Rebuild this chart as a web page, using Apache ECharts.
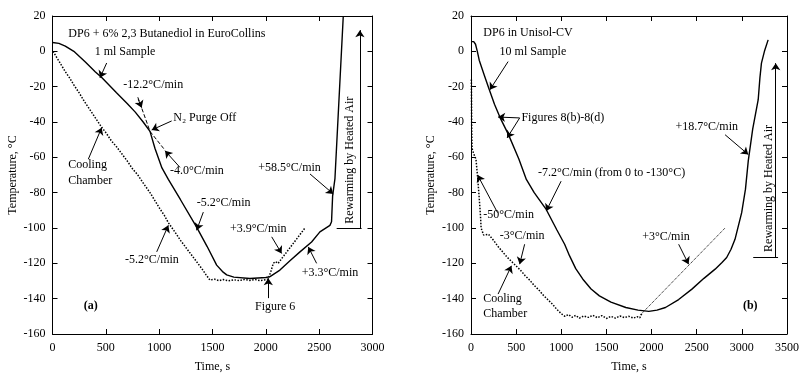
<!DOCTYPE html>
<html>
<head>
<meta charset="utf-8">
<script src="https://cdn.jsdelivr.net/npm/echarts@6/dist/echarts.min.js"></script>
<style>
html, body { margin: 0; padding: 0; background: #fff; }
#chart { width: 802px; height: 378px; }
</style>
</head>
<body>
<div id="chart"></div>
<script>
var FONT = "Liberation Serif";

// ---- panel (a): DP6 + 6% 2,3 Butanediol, 1 ml ----
var sampleA = [
  [0, 5], [60, 4.5], [120, 3], [200, 0], [308, -6], [400, -11.5], [464, -15], [600, -23.5],
  [700, -29.5], [776, -34.4], [850, -40], [914, -45.3], [961, -55], [1026, -66], [1086, -72.5],
  [1200, -84], [1351, -99.5], [1450, -110.5], [1539, -121], [1600, -125], [1633, -126.5],
  [1700, -127.8], [1851, -128.6], [2000, -128], [2039, -127.5], [2132, -123.8], [2226, -118.5],
  [2320, -113.5], [2429, -107.9], [2507, -102.2], [2601, -98.5], [2616, -96.5], [2626, -82],
  [2648, -72], [2726, 20]
];
var chamberA = [
  [5, 0], [40, -3.5], [80, -7.5], [120, -11.5], [160, -15], [200, -19], [250, -23.5], [300, -28.5],
  [350, -33], [400, -37.5], [461, -43], [500, -46], [550, -50.5], [600, -54], [650, -58], [700, -62],
  [750, -66.5], [800, -70], [850, -74.5], [914, -80], [950, -83.5], [1000, -88.5], [1050, -93],
  [1086, -97], [1150, -102.5], [1200, -107], [1250, -111], [1300, -115], [1350, -119], [1400, -123],
  [1440, -126.5], [1476, -129.5], [1490, -130], [1520, -129], [1560, -129.8], [1600, -129.2],
  [1650, -129.9], [1700, -129.3], [1750, -129.8], [1800, -129.1], [1850, -129.7], [1900, -129.2],
  [1950, -129.8], [2000, -129.3], [2023, -128.8], [2045, -125], [2070, -120], [2090, -119],
  [2115, -120], [2367, -100]
];
var tangentFastA = [[800, -26], [914, -45.3]];   // -12.2 C/min
var tangentSlowA = [[914, -45.3], [1055, -56]];  // -4.0 C/min

// ---- panel (b): DP6 in Unisol-CV, 10 ml ----
var sampleB = [
  [0, 5.5], [30, 5.5], [50, 4], [70, 0], [91, -5], [150, -14], [201, -21.5], [260, -30], [322, -37.5],
  [414, -47], [530, -61], [613, -72.5], [700, -80], [833, -89.5], [950, -101], [1037, -109.2],
  [1092, -115.8], [1160, -123], [1239, -129], [1330, -134.5], [1422, -138.4], [1550, -142],
  [1715, -145], [1850, -146.5], [1970, -147.2], [2060, -146.5], [2154, -145], [2300, -140.5],
  [2447, -134.6], [2580, -128.5], [2704, -123.3], [2780, -119.5], [2832, -116.7], [2880, -112],
  [2924, -106.4], [2998, -91.3], [3040, -78], [3071, -62], [3120, -44], [3181, -27.4],
  [3200, -15], [3217, -6.7], [3250, 0], [3291, 6.5]
];
var chamberB = [
  [4, -16], [6, -30], [8, -45], [12, -55], [30, -58], [55, -61], [73, -71], [91, -83], [105, -93],
  [112, -100], [140, -104], [193, -103.5], [250, -107], [300, -110.5], [350, -113.5], [400, -116.5],
  [450, -119], [500, -121.5], [550, -124], [600, -127], [650, -129.5], [700, -132.5], [750, -135],
  [800, -138], [850, -140.5], [900, -143], [950, -146], [1000, -148.5], [1040, -150], [1080, -149],
  [1120, -150.5], [1160, -149.5], [1200, -151], [1250, -149.8], [1300, -150.6], [1350, -149.4],
  [1400, -150.8], [1450, -149.6], [1500, -151.2], [1550, -150], [1600, -151], [1650, -149.8],
  [1700, -150.7], [1750, -150], [1800, -151], [1840, -150.2], [1870, -150.8], [1896, -148]
];
var rateLineB = [[1880, -149], [2814, -100]];   // +3 C/min

// annotations: [text, time, temp, align, bold]
var labelsA = [
  ["DP6 + 6% 2,3 Butanediol in EuroCollins", 148, 9.7, "left"],
  ["1 ml Sample", 680, -0.4, "center"],
  ["-12.2°C/min", 664, -18.8, "left"],
  ["N₂ Purge Off", 1132, -37.5, "left"],
  ["-4.0°C/min", 1102, -67.9, "left"],
  ["Cooling", 148, -64.2, "left"],
  ["Chamber", 148, -73.2, "left"],
  ["-5.2°C/min", 1352, -85.7, "left"],
  ["-5.2°C/min", 680, -118.2, "left"],
  ["+3.9°C/min", 1664, -100.4, "left"],
  ["+3.3°C/min", 2336, -125.3, "left"],
  ["Figure 6", 1898, -144.4, "left"],
  ["+58.5°C/min", 1929, -65.7, "left"],
  ["(a)", 359, -144, "center", true]
];
var arrowsA = [
  [[508, -6.6], [445, -15]],
  [[804, -27.2], [836, -31.9]],
  [[1117, -39.4], [930, -44.5]],
  [[1195, -65.7], [1055, -56.3]],
  [[336, -61], [461, -43.2]],
  [[1414, -91], [1351, -101.3]],
  [[977, -113.5], [1086, -98.5]],
  [[2055, -105], [2148, -114.4]],
  [[2476, -120], [2398, -110.7]],
  [[2023, -139.7], [2023, -128.5]],
  [[2414, -69.4], [2632, -80.7]],
  [[2882, -100], [2882, 12]]
];
var bracketA = [[2664, -100], [2898, -100]];
var rewarmA = [2789, -61.6];

var labelsB = [
  ["DP6 in Unisol-CV", 631, 10.2, "center"],
  ["10 ml Sample", 686, -0.1, "center"],
  ["Figures 8(b)-8(d)", 558, -37.7, "left"],
  ["-7.2°C/min (from 0 to -130°C)", 741, -68.8, "left"],
  ["-50°C/min", 135, -92.3, "left"],
  ["-3°C/min", 319, -104.5, "left"],
  ["Cooling", 135, -140.3, "left"],
  ["Chamber", 135, -148.7, "left"],
  ["+3°C/min", 1896, -104.9, "left"],
  ["+18.7°C/min", 2264, -42.5, "left"],
  ["(b)", 3093, -144, "center", true]
];
var arrowsB = [
  [[411, -5.8], [209, -21.8]],
  [[539, -37.7], [300, -37.2]],
  [[539, -37.7], [400, -49]],
  [[998, -73.5], [833, -90.4]],
  [[294, -91.3], [73, -70]],
  [[594, -109.2], [539, -120.5]],
  [[300, -137.4], [448, -121.4]],
  [[2300, -109.2], [2410, -120.5]],
  [[2814, -47.2], [3071, -58.4]],
  [[3375, -116.7], [3375, -6.7]]
];
var bracketB = [[3126, -116.7], [3401, -116.7]];
var rewarmB = [3298, -77.6];

var chart = echarts.init(document.getElementById("chart"));

function plain(v) { return String(v); }

function xAxes(grid, max) {
  var base = {
    type: "value", gridIndex: grid, min: 0, max: max, interval: 500,
    axisLine: { onZero: false, lineStyle: { color: "#000", width: 1 } },
    axisTick: { inside: true, length: 5, lineStyle: { color: "#000" } },
    splitLine: { show: false }
  };
  var bottom = Object.assign({}, base, {
    position: "bottom",
    axisLabel: { color: "#000", fontFamily: FONT, fontSize: 12, margin: 8, formatter: plain },
    name: "Time, s", nameLocation: "middle", nameGap: 27,
    nameTextStyle: { color: "#000", fontFamily: FONT, fontSize: 12 }
  });
  var top = Object.assign({}, base, { position: "top", axisLabel: { show: false } });
  return [bottom, top];
}
function yAxes(grid) {
  var base = {
    type: "value", gridIndex: grid, min: -160, max: 20, interval: 20,
    axisLine: { onZero: false, lineStyle: { color: "#000", width: 1 } },
    axisTick: { inside: true, length: 5, lineStyle: { color: "#000" } },
    splitLine: { show: false }
  };
  var left = Object.assign({}, base, {
    position: "left",
    axisLabel: { color: "#000", fontFamily: FONT, fontSize: 12, margin: 7, formatter: plain },
    name: "Temperature, °C", nameLocation: "middle", nameGap: 34,
    nameTextStyle: { color: "#000", fontFamily: FONT, fontSize: 12 }
  });
  var right = Object.assign({}, base, { position: "right", axisLabel: { show: false } });
  return [left, right];
}

function curve(data, xi, yi, type, width) {
  return {
    type: "line", xAxisIndex: xi, yAxisIndex: yi, data: data,
    showSymbol: false, symbol: "none", silent: true,
    lineStyle: { color: "#000", width: width, type: type }
  };
}

function arrowSeries(xi, yi, arrows, bracket) {
  var d = arrows.map(function (a) {
    return [{ coord: a[0] }, { coord: a[1] }];
  });
  d.push([{ coord: bracket[0], symbol: "none" }, { coord: bracket[1], symbol: "none" }]);
  return {
    type: "line", xAxisIndex: xi, yAxisIndex: yi, data: [], silent: true,
    markLine: {
      silent: true, animation: false,
      symbol: ["none", "arrow"], symbolSize: 7,
      label: { show: false },
      lineStyle: { color: "#000", width: 1, type: "solid" },
      emphasis: { disabled: true },
      data: d
    }
  };
}

var xa = xAxes(0, 3000), xb = xAxes(1, 3500);
var ya = yAxes(0), yb = yAxes(1);

chart.setOption({
  animation: false,
  backgroundColor: "#fff",
  grid: [
    { left: 52.5, top: 16, width: 320, height: 320 },
    { left: 471, top: 16, width: 318, height: 319 }
  ],
  xAxis: [xa[0], xa[1], xb[0], xb[1]],
  yAxis: [ya[0], ya[1], yb[0], yb[1]],
  series: [
    curve(sampleA, 0, 0, "solid", 1.4),
    curve(chamberA, 0, 0, "dotted", 1.5),
    curve(tangentFastA, 0, 0, "dashed", 1),
    curve(tangentSlowA, 0, 0, "dashed", 1),
    arrowSeries(0, 0, arrowsA, bracketA),
    curve(sampleB, 2, 2, "solid", 1.4),
    curve(chamberB, 2, 2, "dotted", 1.5),
    curve(rateLineB, 2, 2, "dotted", 1),
    arrowSeries(2, 2, arrowsB, bracketB)
  ]
});

function textGraphics(gridIndex, labels, rewarm) {
  var out = labels.map(function (l) {
    var p = chart.convertToPixel({ gridIndex: gridIndex }, [l[1], l[2]]);
    return {
      type: "text", x: p[0], y: p[1], silent: true,
      style: {
        text: l[0], fill: "#000", fontFamily: FONT, fontSize: 12,
        fontWeight: l[4] ? "bold" : "normal",
        align: l[3], verticalAlign: "middle"
      }
    };
  });
  var r = chart.convertToPixel({ gridIndex: gridIndex }, rewarm);
  out.push({
    type: "text", x: r[0], y: r[1], rotation: Math.PI / 2, silent: true,
    style: {
      text: "Rewarming by Heated Air", fill: "#000", fontFamily: FONT, fontSize: 12,
      align: "center", verticalAlign: "middle"
    }
  });
  return out;
}

chart.setOption({
  graphic: textGraphics(0, labelsA, rewarmA).concat(textGraphics(1, labelsB, rewarmB))
});

window.addEventListener("resize", function () {
  chart.resize();
});
</script>
</body>
</html>
